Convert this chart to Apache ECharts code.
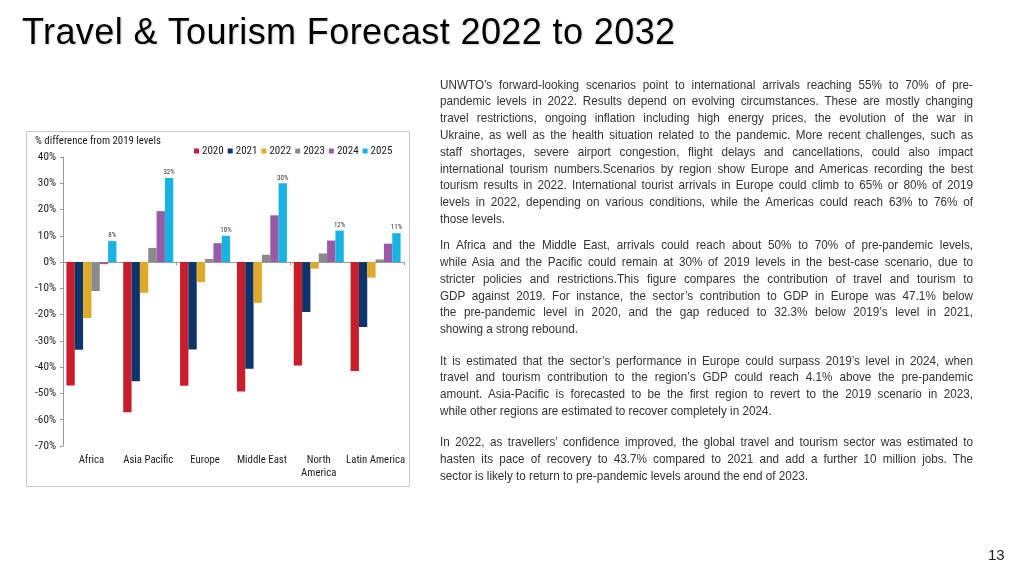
<!DOCTYPE html>
<html>
<head>
<meta charset="utf-8">
<script src="https://cdn.jsdelivr.net/npm/echarts@6/dist/echarts.min.js"></script>
<style>
  html, body { margin: 0; padding: 0; background: #fff; }
  #wrap { position: relative; width: 1024px; height: 576px; overflow: hidden; }
  #chart { position: absolute; left: 0; top: 0; width: 1024px; height: 576px; }
  #title { position: absolute; left: 22px; top: 14px; font-family: 'Liberation Sans', Arial, sans-serif; font-size: 36px; line-height: 36px; letter-spacing: 0.4px; color: #000; white-space: nowrap; text-shadow: 1px 1px 2px rgba(0,0,0,0.18); }
  .para { position: absolute; left: 440px; font-family: 'Liberation Sans', Arial, sans-serif; font-size: 13px; line-height: 16.8px; color: #333; transform-origin: left top; }
  .line { display: block; white-space: nowrap; height: 16.8px; }
  .line span { display: inline-block; transform-origin: left center; }
  #page { position: absolute; left: 988px; top: 546px; font-family: 'Liberation Sans', Arial, sans-serif; font-size: 15px; line-height: 18px; color: #222; }
</style>
</head>
<body>
<div id="wrap">
  <div id="chart"></div>
  <div id="title">Travel &amp; Tourism Forecast 2022 to 2032</div>
  <div id="page">13</div>
</div>
<script>
// ---- chart data ----
const categories = ['Africa', 'Asia Pacific', 'Europe', 'Middle East', 'North\nAmerica', 'Latin America'];
const seriesNames = ['2020', '2021', '2022', '2023', '2024', '2025'];
const v2020 = [-47.0, -57.2, -47.1, -49.3, -39.4, -41.5];
const v2021 = [-33.4, -45.4, -33.3, -40.6, -19.0, -24.7];
const v2022 = [-21.3, -11.7, -7.6, -15.5, -2.5, -5.9];
const v2023 = [-11.0, 5.4, 1.2, 2.8, 3.3, 1.0];
const v2024 = [-0.8, 19.4, 7.2, 17.8, 8.2, 7.0];
const v2025 = [8, 32, 10, 30, 12, 11];
const yTicks = { min: -70, max: 40, interval: 10 };
const chartTitle = '% difference from 2019 levels';

// ---- text ----
const paragraphs = [
  { top: 76.6, lines: [
    "UNWTO\u2019s forward-looking scenarios point to international arrivals reaching 55% to 70% of pre-",
    "pandemic levels in 2022. Results depend on evolving circumstances. These are mostly changing",
    "travel restrictions, ongoing inflation including high energy prices, the evolution of the war in",
    "Ukraine, as well as the health situation related to the pandemic. More recent challenges, such as",
    "staff shortages, severe airport congestion, flight delays and cancellations, could also impact",
    "international tourism numbers.Scenarios by region show Europe and Americas recording the best",
    "tourism results in 2022. International tourist arrivals in Europe could climb to 65% or 80% of 2019",
    "levels in 2022, depending on various conditions, while the Americas could reach 63% to 76% of",
    "those levels."]},
  { top: 237.3, lines: [
    "In Africa and the Middle East, arrivals could reach about 50% to 70% of pre-pandemic levels,",
    "while Asia and the Pacific could remain at 30% of 2019 levels in the best-case scenario, due to",
    "stricter policies and restrictions.This figure compares the contribution of travel and tourism to",
    "GDP against 2019. For instance, the sector\u2019s contribution to GDP in Europe was 47.1% below",
    "the pre-pandemic level in 2020, and the gap reduced to 32.3% below 2019\u2019s level in 2021,",
    "showing a strong rebound."]},
  { top: 352.6, lines: [
    "It is estimated that the sector\u2019s performance in Europe could surpass 2019\u2019s level in 2024, when",
    "travel and tourism contribution to the region\u2019s GDP could reach 4.1% above the pre-pandemic",
    "amount. Asia-Pacific is forecasted to be the first region to revert to the 2019 scenario in 2023,",
    "while other regions are estimated to recover completely in 2024."]},
  { top: 434.3, lines: [
    "In 2022, as travellers\u2019 confidence improved, the global travel and tourism sector was estimated to",
    "hasten its pace of recovery to 43.7% compared to 2021 and add a further 10 million jobs. The",
    "sector is likely to return to pre-pandemic levels around the end of 2023."]}
];

const wrap = document.getElementById('wrap');
const SCALE = 0.9;
const TARGET = 533 / SCALE;
paragraphs.forEach(p => {
  const div = document.createElement('div');
  div.className = 'para';
  div.style.top = p.top + 'px';
  div.style.width = TARGET + 'px';
  p.lines.forEach(txt => {
    const ln = document.createElement('div');
    ln.className = 'line';
    const sp = document.createElement('span');
    sp.textContent = txt;
    ln.appendChild(sp);
    div.appendChild(ln);
  });
  wrap.appendChild(div);
  const spans = div.querySelectorAll('.line span');
  spans.forEach((sp, i) => {
    const last = i === spans.length - 1;
    const w = sp.getBoundingClientRect().width;
    if (w > TARGET) {
      sp.style.transform = 'scaleX(' + (TARGET / w) + ')';
    } else if (!last) {
      const n = (sp.textContent.match(/ /g) || []).length;
      if (n > 0) sp.style.wordSpacing = ((TARGET - w) / n) + 'px';
    }
  });
  div.style.transform = 'scaleX(' + SCALE + ')';
});

// ---- chart ----
const colors = ['#c81e2b', '#0d356b', '#e0a92a', '#8a8a8a', '#9b5aa5', '#17b3e3'];
const values = [v2020, v2021, v2022, v2023, v2024, v2025];
const narrow = "'Roboto Condensed', 'Liberation Sans', Arial, sans-serif";

const chart = echarts.init(document.getElementById('chart'), null, { renderer: 'canvas' });
const option = {
  animation: false,
  color: colors,
  textStyle: { fontFamily: narrow },
  title: {
    text: chartTitle, left: 35, top: 135.5, padding: 0,
    textStyle: { fontSize: 10.8, fontWeight: 'normal', color: '#1a1a1a', fontFamily: narrow }
  },
  legend: {
    data: seriesNames, left: 194, top: 145.5, padding: 0,
    icon: 'rect', itemWidth: 5, itemHeight: 5, itemGap: 4,
    textStyle: { fontSize: 11, color: '#1a1a1a', fontFamily: narrow, padding: [0, 0, 0, -2] }
  },
  grid: { left: 63, right: 620, top: 157, bottom: 130, containLabel: false },
  xAxis: [
    {
      type: 'category', data: categories, position: 'bottom',
      axisLine: { show: false, onZero: false }, axisTick: { show: false },
      axisLabel: { fontSize: 10.8, color: '#1a1a1a', margin: 8, lineHeight: 13, interval: 0, fontFamily: narrow }
    },
    {
      type: 'category', data: categories, position: 'top',
      axisLine: { show: true, onZero: true, lineStyle: { color: '#9a9a9a', width: 1 } },
      axisTick: { show: true, inside: true, length: 3, lineStyle: { color: '#9a9a9a' } },
      axisLabel: { show: false }
    }
  ],
  yAxis: {
    type: 'value', min: yTicks.min, max: yTicks.max, interval: yTicks.interval,
    axisLine: { show: true, lineStyle: { color: '#9a9a9a', width: 1 } },
    axisTick: { show: true, length: 3, lineStyle: { color: '#9a9a9a' } },
    splitLine: { show: false },
    axisLabel: { formatter: '{value}%', fontSize: 11.2, color: '#1a1a1a', margin: 7, fontFamily: narrow }
  },
  graphic: [{
    type: 'rect', shape: { x: 26.5, y: 131.5, width: 383, height: 355 },
    style: { fill: 'none', stroke: '#c6c6c6', lineWidth: 1 }, silent: true, z: -1
  }],
  series: seriesNames.map((name, i) => ({
    name: name, type: 'bar', data: values[i], xAxisIndex: 0,
    barGap: '0%', barCategoryGap: '12%',
    itemStyle: { color: colors[i] },
    label: i === 5 ? { show: true, position: 'top', distance: 2, fontSize: 7, color: '#333', formatter: '{c}%', fontFamily: narrow } : { show: false }
  }))
};
chart.setOption(option);
</script>
</body>
</html>
